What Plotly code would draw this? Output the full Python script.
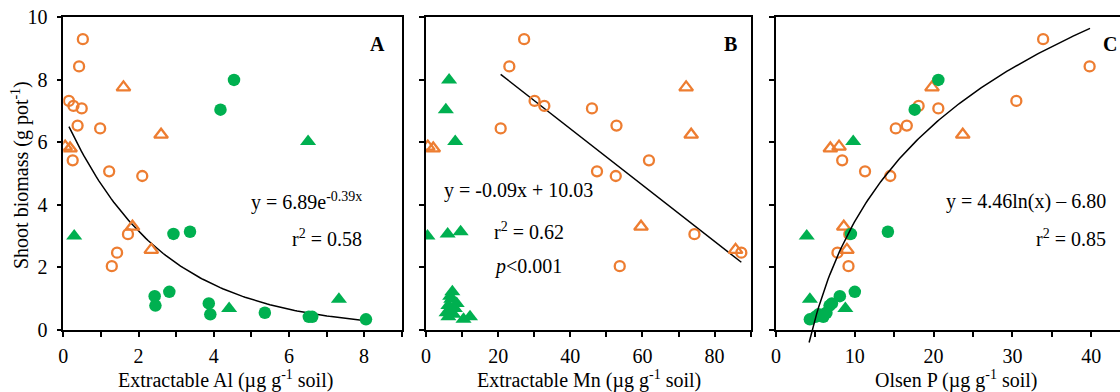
import numpy as np
import plotly.graph_objects as go

# ---------------- data ----------------
# shoot biomass (g pot-1) per group
bio_org_circ = [9.29, 8.42, 7.32, 7.16, 7.08, 6.53, 6.44, 5.42, 5.07, 4.92, 3.06, 2.47, 2.04]
bio_org_tri = [7.75, 6.24, 5.86, 5.80, 3.30, 2.56]
bio_grn_circ = [7.99, 7.04, 3.07, 3.14, 1.22, 1.08, 0.85, 0.78, 0.55, 0.50, 0.42, 0.42, 0.34]
bio_grn_tri = [6.02, 3.00, 0.69, 0.98]

# Extractable Al
al_org_circ = [0.52, 0.42, 0.15, 0.27, 0.49, 0.38, 0.98, 0.25, 1.22, 2.10, 1.72, 1.43, 1.29]
al_org_tri = [1.60, 2.60, 0.05, 0.18, 1.84, 2.34]
al_grn_circ = [4.54, 4.18, 2.93, 3.37, 2.82, 2.43, 3.87, 2.45, 5.36, 3.91, 6.53, 6.62, 8.05]
al_grn_tri = [6.51, 0.29, 4.41, 7.33]

# Extractable Mn
mn_org_circ = [27.2, 23.1, 30.1, 32.8, 46.0, 52.8, 20.7, 61.8, 47.4, 52.6, 74.4, 87.4, 53.7]
mn_org_tri = [72.1, 73.5, 0.5, 2.0, 59.6, 85.8]
mn_grn_circ = [6.4, 5.5, 6.0, 9.6, 7.3, 6.7, 8.5, 6.2, 5.7, 7.6, 12.2, 6.2, 10.4]
mn_grn_tri = [8.1, 0.4, 8.0, 7.0]

# Olsen P
p_org_circ = [33.9, 39.8, 30.5, 18.1, 20.6, 16.6, 15.2, 8.4, 11.3, 14.5, 9.3, 7.8, 9.2]
p_org_tri = [19.8, 23.7, 8.0, 6.9, 8.6, 9.0]
p_grn_circ = [20.6, 17.6, 9.5, 14.2, 10.0, 8.1, 7.1, 6.8, 6.4, 5.4, 5.0, 6.0, 4.3]
p_grn_tri = [9.8, 3.9, 8.8, 4.3]

# fitted relationships (coefficients shown on the chart)
fit_al = dict(a=6.89, b=-0.39, xmin=0.15, xmax=8.0)
fit_mn = dict(m=-0.09, c=10.03, xmin=20.7, xmax=87.4)
fit_p = dict(a=4.46, c=-6.80, xmin=4.2, xmax=39.85)

ORANGE = "#ED7D31"
GREEN = "#00B050"
FONT = "Liberation Serif"
W, H = 1120, 392

def py2paper(py):
    return (H - py) / H

def px2paper(px):
    return px / W

ydom = [py2paper(330), py2paper(17)]
xdomA = [px2paper(63.3), px2paper(401.7)]
xdomB = [px2paper(426), px2paper(750.7)]
xdomC = [px2paper(776), 1.0]

fig = go.Figure()

def add_points(xa, ya, xs_oc, xs_ot, xs_gc, xs_gt, green_circ_symbol="circle"):
    fig.add_trace(go.Scatter(x=xs_oc, y=bio_org_circ, mode="markers", xaxis=xa, yaxis=ya,
                             marker=dict(symbol="circle-open", size=10, color=ORANGE, line=dict(width=2.3, color=ORANGE))))
    fig.add_trace(go.Scatter(x=xs_ot, y=bio_org_tri, mode="markers", xaxis=xa, yaxis=ya,
                             marker=dict(symbol="triangle-up-open", size=12, color=ORANGE, line=dict(width=2.3, color=ORANGE))))
    fig.add_trace(go.Scatter(x=xs_gc, y=bio_grn_circ, mode="markers", xaxis=xa, yaxis=ya,
                             marker=dict(symbol=green_circ_symbol, size=12.5 if green_circ_symbol == "circle" else 14,
                                         color=GREEN, line=dict(width=0))))
    fig.add_trace(go.Scatter(x=xs_gt, y=bio_grn_tri, mode="markers", xaxis=xa, yaxis=ya,
                             marker=dict(symbol="triangle-up", size=14, color=GREEN, line=dict(width=0))))

# fitted curves
xa_line = np.linspace(fit_al["xmin"], fit_al["xmax"], 120)
fig.add_trace(go.Scatter(x=xa_line, y=fit_al["a"] * np.exp(fit_al["b"] * xa_line), mode="lines",
                         xaxis="x", yaxis="y", line=dict(color="black", width=1.5)))
xb_line = np.array([fit_mn["xmin"], fit_mn["xmax"]])
fig.add_trace(go.Scatter(x=xb_line, y=fit_mn["m"] * xb_line + fit_mn["c"], mode="lines",
                         xaxis="x2", yaxis="y2", line=dict(color="black", width=1.5)))
xc_line = np.linspace(fit_p["xmin"], fit_p["xmax"], 150)
fig.add_trace(go.Scatter(x=xc_line, y=fit_p["a"] * np.log(xc_line) + fit_p["c"], mode="lines",
                         xaxis="x4", yaxis="y4", line=dict(color="black", width=1.5)))

add_points("x", "y", al_org_circ, al_org_tri, al_grn_circ, al_grn_tri)
add_points("x2", "y2", mn_org_circ, mn_org_tri, mn_grn_circ, mn_grn_tri, green_circ_symbol="triangle-up")
add_points("x3", "y3", p_org_circ, p_org_tri, p_grn_circ, p_grn_tri)

tickfont = dict(family=FONT, size=20, color="black")

def xaxis_cfg(dom, rng, dtick, minor, mirror=True):
    return dict(domain=dom, range=rng, dtick=dtick, tick0=0, showline=True, linecolor="black", linewidth=1.5,
                mirror=mirror, ticks="outside", ticklen=5, tickwidth=1.5, tickcolor="black",
                minor=dict(ticks="outside", ticklen=5, tickwidth=1.5, tickcolor="black", dtick=minor, tick0=0),
                showgrid=False, zeroline=False, tickfont=tickfont, automargin=False, fixedrange=True,
                ticklabelstandoff=2)

def yaxis_cfg(anchor, labels=True, mirror=True):
    return dict(domain=ydom, range=[0, 10], dtick=2, tick0=0, anchor=anchor, showline=True, linecolor="black",
                linewidth=1.5, mirror=mirror, ticks="outside", ticklen=5, tickwidth=1.5, tickcolor="black",
                showticklabels=labels, showgrid=False, zeroline=False, tickfont=tickfont, automargin=False,
                fixedrange=True, ticklabelstandoff=5)

extend = 0.06
ext_units = extend * H / ((330 - 17) / 10)

fig.update_layout(
    width=W, height=H, margin=dict(l=0, r=0, t=0, b=0),
    paper_bgcolor="white", plot_bgcolor="rgba(0,0,0,0)", showlegend=False, template="none",
    font=dict(family=FONT, size=20, color="black"),
    xaxis=xaxis_cfg(xdomA, [0, 9], 2, 1),
    yaxis=yaxis_cfg("x"),
    xaxis2=xaxis_cfg(xdomB, [0, 90], 20, 10),
    yaxis2=yaxis_cfg("x2", labels=False),
    xaxis3=xaxis_cfg(xdomC, [0, (1120 - 776) / 7.88], 10, 5),
    yaxis3=yaxis_cfg("x3", labels=False, mirror=False),
    xaxis4=dict(domain=xdomC, range=[0, (1120 - 776) / 7.88], visible=False, anchor="y4", fixedrange=True),
    yaxis4=dict(domain=[ydom[0] - extend, ydom[1]], range=[-ext_units, 10], visible=False, anchor="x4",
                fixedrange=True),
)
fig.update_layout(xaxis=dict(anchor="y"), xaxis2=dict(anchor="y2"), xaxis3=dict(anchor="y3"))

ann = []
def add_text(text, px, py, xanchor="center", size=20, angle=0, bold=False):
    if bold:
        text = "<b>" + text + "</b>"
    ann.append(dict(text=text, x=px2paper(px), y=py2paper(py), xref="paper", yref="paper",
                    xanchor=xanchor, yanchor="middle", showarrow=False, textangle=angle,
                    font=dict(family=FONT, size=size, color="black")))

add_text("Shoot biomass (g pot<sup>-1</sup>)", 20, 175, angle=-90)
add_text("Extractable Al (µg g<sup>-1</sup> soil)", 225, 379)
add_text("Extractable Mn (µg g<sup>-1</sup> soil)", 589, 379)
add_text("Olsen P (µg g<sup>-1</sup> soil)", 956, 379)
add_text("A", 377, 44, bold=True)
add_text("B", 730, 44, bold=True)
add_text("C", 1110, 44, bold=True)
add_text("y = 6.89e<sup>-0.39x</sup>", 364, 201, xanchor="right")
add_text("r<sup>2</sup> = 0.58", 364, 238, xanchor="right")
add_text("y = -0.09x + 10.03", 442, 190, xanchor="left")
add_text("r<sup>2</sup> = 0.62", 492, 231, xanchor="left")
add_text("<i>p</i><0.001", 492, 266, xanchor="left")
add_text("y = 4.46ln(x) – 6.80", 1108, 201, xanchor="right")
add_text("r<sup>2</sup> = 0.85", 1108, 238, xanchor="right")
fig.update_layout(annotations=ann)

fig.write_html("out.html", config={"displayModeBar": False},
               post_script="document.body.style.margin='0';document.body.style.overflow='hidden';")
